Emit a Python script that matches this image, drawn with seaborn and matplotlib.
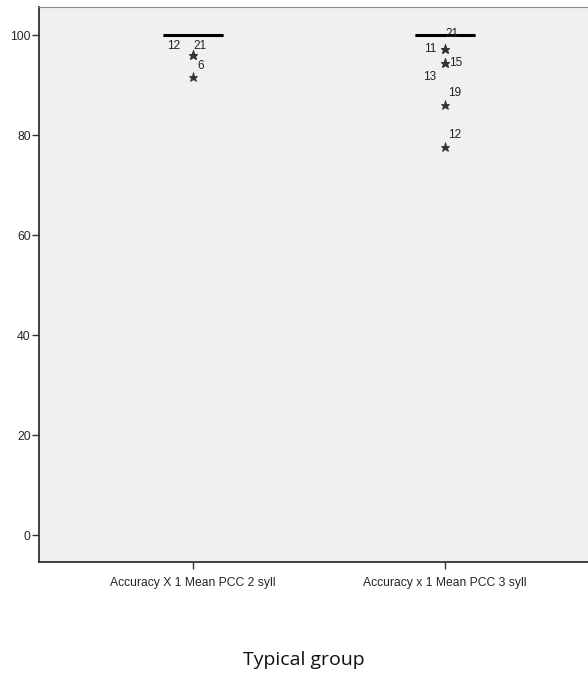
import numpy as np
import pandas as pd
import matplotlib
matplotlib.use("Agg")
import matplotlib.pyplot as plt
import seaborn as sns

# categories and values
categories = ["Accuracy X 1 Mean PCC 2 syll", "Accuracy x 1 Mean PCC 3 syll"]
n_cases = 30
outliers_2syll = [96.0, 96.0, 91.7]
outlier_ids_2syll = ["12", "21", "6"]
outliers_3syll = [97.3, 97.3, 94.5, 94.5, 86.0, 77.7]
outlier_ids_3syll = ["21", "11", "15", "13", "19", "12"]

vals_2 = [100.0] * (n_cases - len(outliers_2syll)) + outliers_2syll
vals_3 = [100.0] * (n_cases - len(outliers_3syll)) + outliers_3syll
df = pd.DataFrame({
    "variable": [categories[0]] * len(vals_2) + [categories[1]] * len(vals_3),
    "value": vals_2 + vals_3,
})

sns.set_style("white")
plt.rcParams["font.family"] = ["Liberation Sans", "DejaVu Sans"]

fig = plt.figure(figsize=(5.88, 6.75), dpi=100)
ax = fig.add_axes([39 / 588, 1 - 562 / 675, 1 - 39 / 588, (562 - 7) / 675])
ax.set_facecolor("#f0f0f0")

sns.boxplot(
    data=df, x="variable", y="value", order=categories, width=0.24,
    color="#f0f0f0", linecolor="black", linewidth=1.0, ax=ax,
    medianprops={"linewidth": 2.2, "color": "black"},
    flierprops={"marker": "*", "markersize": 6.5, "markerfacecolor": "#333333",
                "markeredgecolor": "#333333", "markeredgewidth": 0.6},
)

# case labels next to outliers (offsets in points)
label_offsets_2 = [(-19, 2), (0, 2), (3, 3)]
label_offsets_3 = [(0, 6), (-15, -5), (3, -5), (-16, -15), (2, 4), (2, 4)]
for i, (v, lab) in enumerate(zip(outliers_2syll, outlier_ids_2syll)):
    ax.annotate(lab, (0, v), xytext=label_offsets_2[i], textcoords="offset points",
                fontsize=8.5, color="#222222", va="bottom")
for i, (v, lab) in enumerate(zip(outliers_3syll, outlier_ids_3syll)):
    ax.annotate(lab, (1, v), xytext=label_offsets_3[i], textcoords="offset points",
                fontsize=8.5, color="#222222", va="bottom")

ax.set_xlim(-0.611, 1.567)
ax.set_ylim(-5.4, 105.6)
ax.set_yticks([0, 20, 40, 60, 80, 100])
ax.set_xlabel("")
ax.set_ylabel("")
ax.tick_params(axis="both", labelsize=8.7, length=5, width=1, color="#333333",
               direction="out", left=True, bottom=True, pad=1)
ax.tick_params(axis="x", pad=6)

for s in ["left", "bottom"]:
    ax.spines[s].set_color("#333333")
    ax.spines[s].set_linewidth(1.3)
ax.spines["top"].set_color("#888888")
ax.spines["right"].set_visible(False)

fig.text(304 / 588, 1 - 665 / 675, "Typical group", ha="center", va="baseline",
         fontsize=14, family=["Open Sans", "DejaVu Sans"], color="#111111")

fig.savefig("out.png", dpi=100)
